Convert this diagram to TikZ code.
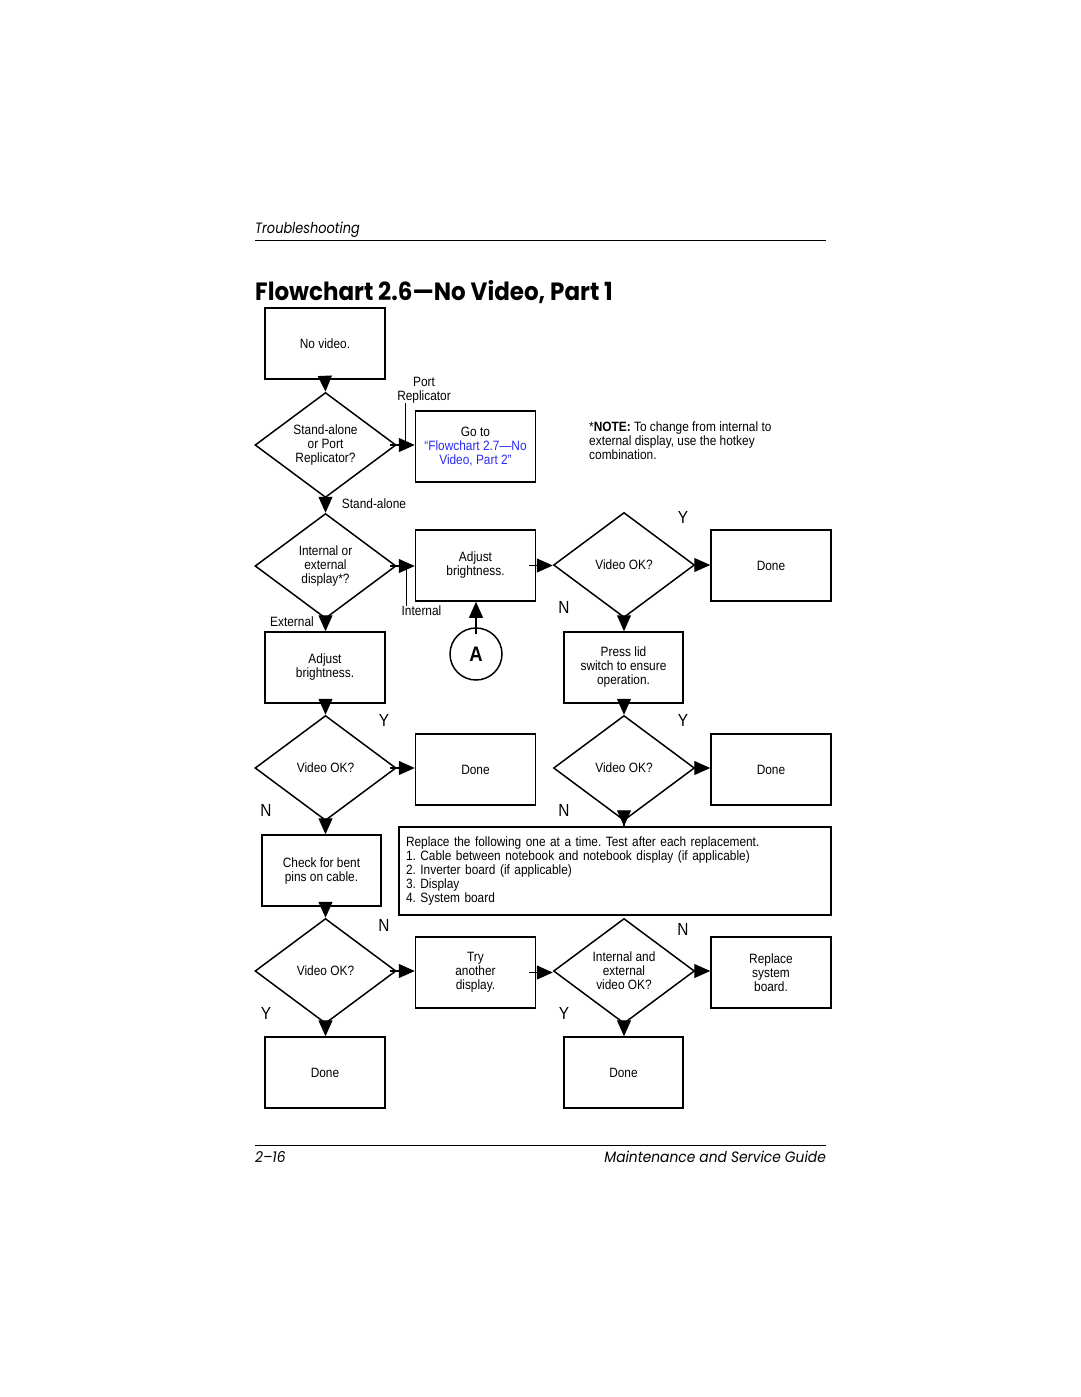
\documentclass[tikz,border=0pt]{standalone}
\usepackage{fontspec}
\setmainfont{Liberation Sans}[FakeStretch=0.88]
\newfontfamily\headfont{Poppins}[FakeStretch=0.86]
\newfontfamily\titlefont{Poppins}[FakeStretch=0.92]
\newfontfamily\footfont{Poppins}[FakeStretch=0.92]
\usetikzlibrary{arrows.meta,shapes.geometric,positioning}
\definecolor{ink}{HTML}{000000}
\definecolor{link}{HTML}{2A2AF2}
\newcommand{\chartfont}{\fontsize{13.5}{14}\selectfont}
\frenchspacing

\begin{document}
\begin{tikzpicture}[x=1pt,y=-1pt,
  process/.style={draw=ink,line width=1.5pt,minimum width=120pt,minimum height=71pt,
    align=center,font=\chartfont,inner sep=2pt},
  decision/.style={draw=ink,line width=1.5pt,diamond,minimum width=141pt,minimum height=105pt,
    inner sep=0pt,align=center,font=\chartfont},
  connector/.style={draw=ink,line width=1.5pt,circle,minimum size=52pt,inner sep=0pt,
    font=\fontsize{21}{21}\selectfont\bfseries},
  flow/.style={draw=ink,line width=1.2pt,-{Triangle[length=16pt,width=14pt]},shorten <=-7pt},
  yn/.style={font=\fontsize{17.5}{17.5}\selectfont,inner sep=0pt},
  branch/.style={font=\chartfont,align=center,inner sep=0pt},
  leader/.style={draw=ink,line width=0.6pt}
]
\fill[white] (0,0) rectangle (1080,1397);
\useasboundingbox (0,0) rectangle (1080,1397);

% page head and foot
\node[anchor=base west,inner sep=0pt,font=\headfont\itshape\fontsize{15}{15}\selectfont] (runhead) at (255,233) {Troubleshooting};
\draw[line width=0.8pt] (255,240) -- (826,240);
\node[anchor=base west,inner sep=0pt,font=\titlefont\bfseries\fontsize{25}{25}\selectfont] (title) at (255,300)
  {Flowchart 2.6—No Video, Part 1};
\draw[line width=0.8pt] (255,1145) -- (826,1145);
\node[anchor=base west,inner sep=0pt,font=\footfont\itshape\fontsize{15}{15}\selectfont] (pageno) at (255,1162) {2–16};
\node[anchor=base east,inner sep=0pt,font=\footfont\itshape\fontsize{15}{15}\selectfont] (guide) at (826,1162)
  {Maintenance and Service Guide};

% left column
\node[process] (novideo) at (325,343.5) {No video.};
\node[decision] (mode) at (325.5,445) {Stand-alone\\or Port\\Replicator?};
\node[process] (goto) at (475.5,446.5)
  {Go to\\{\color{link}“Flowchart 2.7—No}\\{\color{link}Video, Part 2”}};
\node[decision] (display) at (325.5,566) {Internal or\\external\\display*?};
\node[process] (adjint) at (475.5,565.5) {Adjust\\brightness.};
\node[process] (adjext) at (325,667.5) {Adjust\\brightness.};
\node[connector] (entryA) at (476,654) {A};
\node[decision] (okext) at (325.5,768) {Video OK?};
\node[process] (doneext) at (475.5,769.5) {Done};
\node[process,minimum width=119pt] (pins) at (321.5,870.5) {Check for bent\\pins on cable.};
\node[decision] (okpins) at (325.5,971) {Video OK?};
\node[process] (trydisp) at (475.5,972.5) {Try\\another\\display.};
\node[process] (donepins) at (325,1072.5) {Done};

% right column
\node[decision] (okint) at (624,565) {Video OK?};
\node[process] (doneint) at (771,565.5) {Done};
\node[process,minimum width=119pt] (lid) at (623.5,667.5) {Press lid\\switch to ensure\\operation.};
\node[decision] (oklid) at (624,768) {Video OK?};
\node[process] (donelid) at (771,769.5) {Done};
\node[process,minimum width=432pt,minimum height=88pt,align=left,text width=418pt] (replace) at (615,871)
  {Replace the following one at a time. Test after each replacement.\\
   1. Cable between notebook and notebook display (if applicable)\\
   2. Inverter board (if applicable)\\
   3. Display\\
   4. System board};
\node[decision] (okboth) at (624,971) {Internal and\\external\\video OK?};
\node[process] (replsys) at (771,972.5) {Replace\\system\\board.};
\node[process,minimum width=119pt] (doneboth) at (623.5,1072.5) {Done};

\node[anchor=west,align=left,inner sep=0pt,font=\chartfont] (note) at (589,441)
  {*\textbf{NOTE:} To change from internal to\\external display, use the hotkey\\combination.};

% connectors
\draw[flow] (novideo.south) -- (mode.north);
\draw[flow] (mode.east) -- (mode.east -| goto.west);
\draw[flow] (mode.south) -- (display.north);
\draw[flow] (display.east) -- (display.east -| adjint.west);
\draw[flow] (display.south) -- (display.south |- adjext.north);
\draw[flow] (entryA.north) -- (entryA.north |- adjint.south);
\draw[flow] (adjint.east) -- (adjint.east -| okint.west);
\draw[flow] (okint.east) -- (okint.east -| doneint.west);
\draw[flow] (okint.south) -- (okint.south |- lid.north);
\draw[flow] (lid.south -| oklid.north) -- (oklid.north);
\draw[flow] (adjext.south -| okext.north) -- (okext.north);
\draw[flow] (okext.east) -- (okext.east -| doneext.west);
\draw[flow] (okext.south) -- (okext.south |- pins.north);
\draw[flow] (oklid.east) -- (oklid.east -| donelid.west);
\draw[flow] (oklid.south) -- (oklid.south |- replace.north);
\draw[flow] (okpins.north |- pins.south) -- (okpins.north);
\draw[flow] (okpins.east) -- (okpins.east -| trydisp.west);
\draw[flow] (okpins.south) -- (okpins.south |- donepins.north);
\draw[flow] (trydisp.east) -- (trydisp.east -| okboth.west);
\draw[flow] (okboth.east) -- (okboth.east -| replsys.west);
\draw[flow] (okboth.south) -- (okboth.south |- doneboth.north);

% branch labels
\node[branch] (portlbl) at (424,390) {Port\\Replicator};
\draw[leader] ([xshift=8pt]portlbl.south west) -- ([xshift=8pt]portlbl.south west |- mode.east);
\node[branch] (standlbl) at (374,504) {Stand-alone};
\node[branch] (intlbl) at (421.5,611) {Internal};
\draw[leader] ([xshift=4.5pt]intlbl.north west) -- ([xshift=4.5pt]intlbl.north west |- display.east);
\node[branch] (extlbl) at (292,622) {External};

\node[yn] (okintY) at (683,517.5) {Y};
\node[yn] (okintN) at (564,607) {N};
\node[yn] (okextY) at (384,720) {Y};
\node[yn] (okextN) at (266,810) {N};
\node[yn] (oklidY) at (683,720) {Y};
\node[yn] (oklidN) at (564,810) {N};
\node[yn] (okpinsN) at (384,925) {N};
\node[yn] (okpinsY) at (266,1013) {Y};
\node[yn] (okbothN) at (683,929) {N};
\node[yn] (okbothY) at (564,1013) {Y};
\end{tikzpicture}
\end{document}
